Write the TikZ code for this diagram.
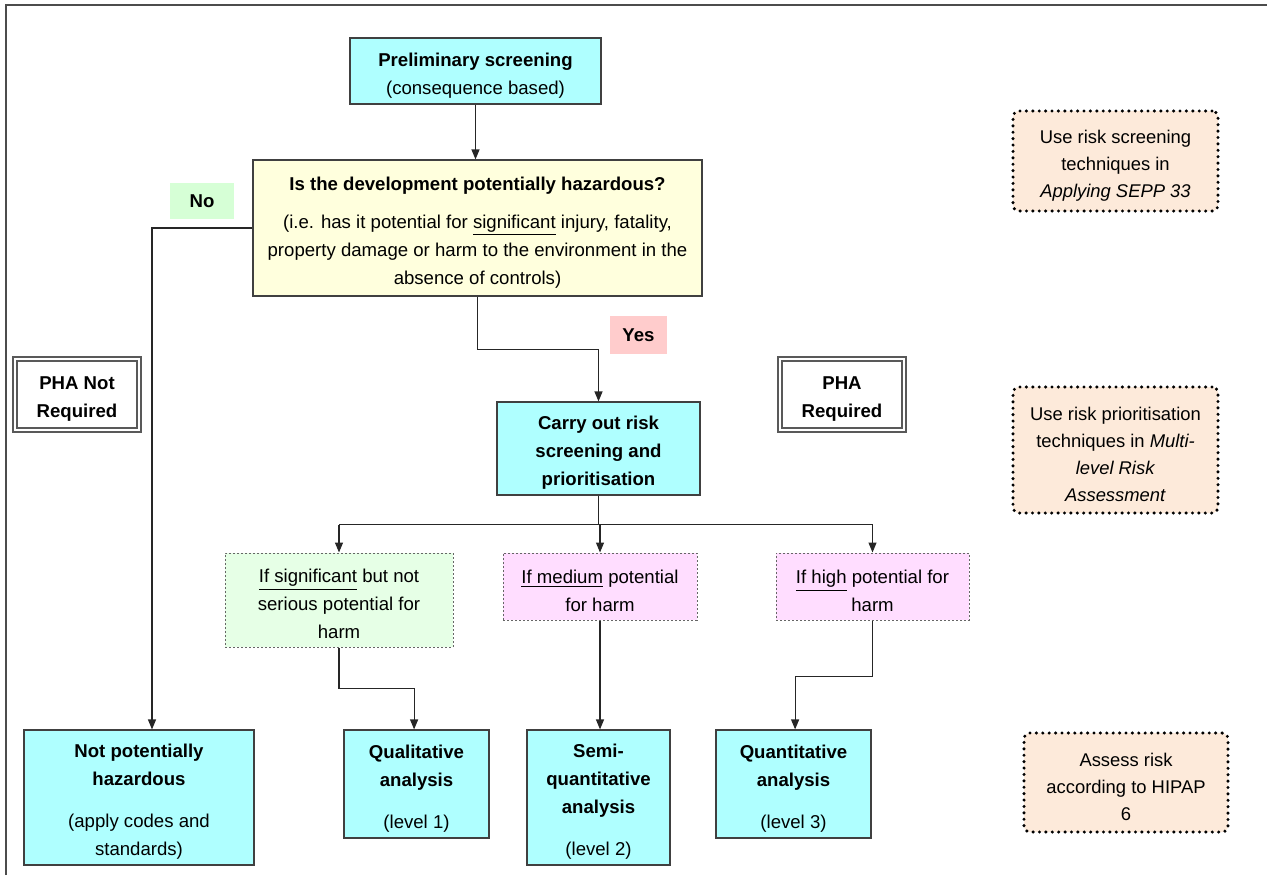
\documentclass[tikz,border=0pt]{standalone}
\usepackage{fontspec}
\setmainfont{Liberation Sans}
\usetikzlibrary{arrows.meta}

\definecolor{boxcyan}{RGB}{175,255,255}
\definecolor{boxyellow}{RGB}{255,255,221}
\definecolor{boxgreen}{RGB}{230,255,230}
\definecolor{nogreen}{RGB}{214,255,214}
\definecolor{boxpink}{RGB}{255,221,255}
\definecolor{yespink}{RGB}{255,204,204}
\definecolor{notepeach}{RGB}{253,234,218}

% extra room above the first line of a box
\newcommand{\topgap}{\rule{0pt}{11pt}}

\tikzset{
  base/.style={align=center, inner sep=0pt, font=\fontsize{9.3}{14}\selectfont},
  cyanbox/.style={base, draw=black!75, line width=0.6pt, fill=boxcyan},
  yellowbox/.style={base, draw=black!75, line width=0.6pt, fill=boxyellow},
  choicebox/.style={base, draw=black!60, line width=0.5pt, dash pattern=on 1pt off 1pt},
  phabox/.style={base, draw=black!65, line width=0.8pt, double=white, double distance=1.4pt},
  notebox/.style={base, font=\fontsize{9.2}{13.5}\selectfont, draw=black, line width=1.7pt,
    dash pattern=on 0pt off 3.2pt, line cap=round, rounded corners=3pt, fill=notepeach},
  arrow/.style={draw=black!85, line width=0.6pt, -{Triangle[length=5pt, width=4pt]}},
  line/.style={draw=black!85, line width=0.6pt},
}

\begin{document}
\begin{tikzpicture}[x=0.5pt, y=-0.5pt]

\useasboundingbox (0,0) rectangle (1267,875);
\draw[black!70, line width=1.2pt] (6,875) -- (6,5) -- (1267,5);

\node[cyanbox, minimum width=125.5pt, minimum height=33pt] (prelim) at (475.5,71)
  {\topgap\textbf{Preliminary screening}\\(consequence based)};
\node[yellowbox, minimum width=224.5pt, minimum height=68pt] (hazard) at (477.5,228)
  {\topgap\textbf{Is the development potentially hazardous?}\\[5pt]
   (i.e. has it potential for \underline{significant} injury, fatality,\\
   property damage or harm to the environment in the\\
   absence of controls)};

\node[base, fill=nogreen, minimum width=32pt, minimum height=18pt] (no) at (202,201) {\textbf{No}};
\node[base, fill=yespink, minimum width=28.5pt, minimum height=19pt] (yes) at (638.5,335) {\textbf{Yes}};

\node[phabox, minimum width=62pt, minimum height=35.5pt] (notreq) at (77,394.5) {\topgap\textbf{PHA Not}\\\textbf{Required}};
\node[phabox, minimum width=62pt, minimum height=35.5pt] (req) at (842,394.5) {\topgap\textbf{PHA}\\\textbf{Required}};

\node[cyanbox, minimum width=101.5pt, minimum height=46.5pt] (carry) at (598.5,448.5)
  {\topgap\textbf{Carry out risk}\\\textbf{screening and}\\\textbf{prioritisation}};

% choices
\node[choicebox, fill=boxgreen, minimum width=114pt, minimum height=47pt] (sig) at (339,600)
  {\topgap\underline{If significant} but not\\serious potential for\\harm};
\node[choicebox, fill=boxpink, minimum width=97pt, minimum height=33.5pt] (medium) at (600,586.5)
  {\topgap\underline{If medium} potential\\for harm};
\node[choicebox, fill=boxpink, minimum width=96.5pt, minimum height=33.5pt] (high) at (872.5,586.5)
  {\topgap\underline{If high} potential for\\harm};

% outcomes
\node[cyanbox, minimum width=115pt, minimum height=67.5pt] (nph) at (139,797.5)
  {\topgap\textbf{Not potentially}\\\textbf{hazardous}\\[7pt](apply codes and\\standards)};
\node[cyanbox, minimum width=72.5pt, minimum height=54pt] (qual) at (416.5,784)
  {\topgap\textbf{Qualitative}\\\textbf{analysis}\\[7pt](level 1)};
\node[cyanbox, minimum width=71.5pt, minimum height=67.5pt] (semi) at (598.5,797.5)
  {\topgap\textbf{Semi-}\\\textbf{quantitative}\\\textbf{analysis}\\[7pt](level 2)};
\node[cyanbox, minimum width=77.5pt, minimum height=54pt] (quant) at (793.5,784)
  {\topgap\textbf{Quantitative}\\\textbf{analysis}\\[7pt](level 3)};

% notes
\node[notebox, minimum width=102.5pt, minimum height=50pt] (noteA) at (1115.5,161)
  {\topgap Use risk screening\\techniques in\\\textit{Applying SEPP 33}};
\node[notebox, minimum width=102.5pt, minimum height=63pt] (noteB) at (1115.5,450)
  {\topgap Use risk prioritisation\\techniques in \textit{Multi-}\\\textit{level Risk}\\\textit{Assessment}};
\node[notebox, minimum width=102pt, minimum height=49.5pt] (noteC) at (1126,782.5)
  {\topgap Assess risk\\according to HIPAP\\6};

% connectors
\draw[arrow] (prelim.south) -- (prelim.south |- hazard.north);
\draw[arrow] (hazard.west) -| ([xshift=6.5pt]nph.north);
\draw[arrow] (hazard.south) -- ++(0,53) -| (carry.north);

\draw[line] (carry.south) -- ++(0,29) coordinate (split);
\draw[line] (sig.north |- split) -- (high.north |- split);
\foreach \n in {sig,medium,high}
  \draw[arrow] (\n.north |- split) -- (\n.north);

\draw[arrow] (sig.south) -- ++(0,41) -| ([xshift=-1.2pt]qual.north);
\draw[arrow] (medium.south) -- (medium.south |- semi.north);
\draw[arrow] (high.south) -- ++(0,56) -| ([xshift=0.8pt]quant.north);

\end{tikzpicture}
\end{document}
